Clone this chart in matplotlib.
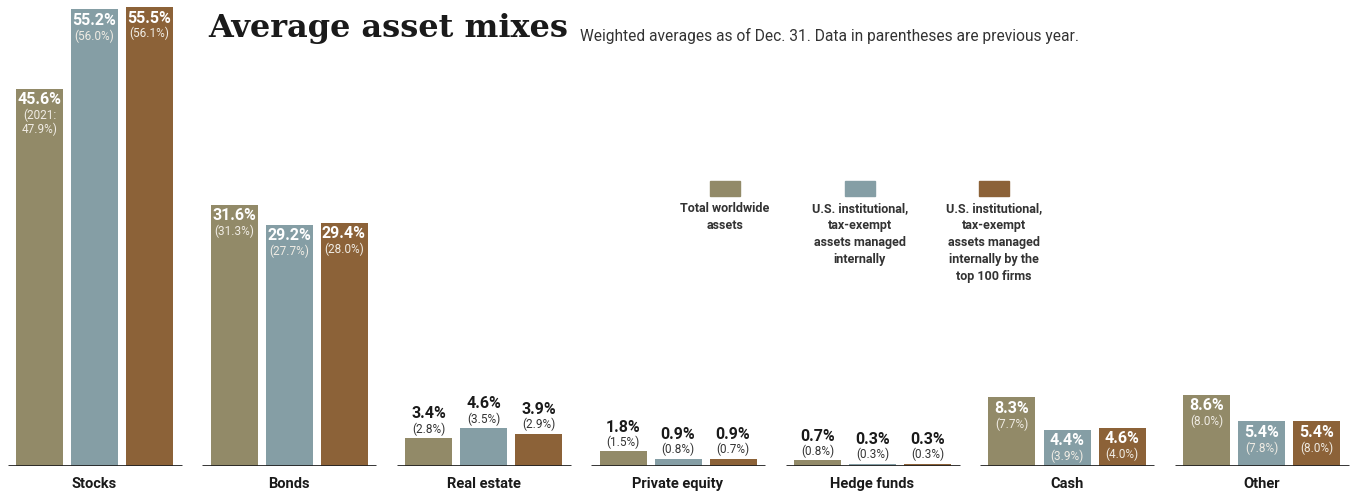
import matplotlib
matplotlib.use("Agg")
import matplotlib.pyplot as plt
from matplotlib import font_manager

categories = ["Stocks", "Bonds", "Real estate", "Private equity", "Hedge funds", "Cash", "Other"]
series_names = ["Total worldwide\nassets",
                "U.S. institutional,\ntax-exempt\nassets managed\ninternally",
                "U.S. institutional,\ntax-exempt\nassets managed\ninternally by the\ntop 100 firms"]
total_now = [45.6, 31.6, 3.4, 1.8, 0.7, 8.3, 8.6]
total_prev = [47.9, 31.3, 2.8, 1.5, 0.8, 7.7, 8.0]
internal_now = [55.2, 29.2, 4.6, 0.9, 0.3, 4.4, 5.4]
internal_prev = [56.0, 27.7, 3.5, 0.8, 0.3, 3.9, 7.8]
top100_now = [55.5, 29.4, 3.9, 0.9, 0.3, 4.6, 5.4]
top100_prev = [56.1, 28.0, 2.9, 0.7, 0.3, 4.0, 8.0]
prev_year = "2021"
colors = ["#928A68", "#859EA5", "#8C6238"]
outside_groups = ["Real estate", "Private equity", "Hedge funds"]

avail = {f.name for f in font_manager.fontManager.ttflist}
narrow = "Liberation Sans Narrow" if "Liberation Sans Narrow" in avail else "Roboto"
sans = "Roboto" if "Roboto" in avail else "DejaVu Sans"

W, H, DPI = 1352, 493, 100
fig = plt.figure(figsize=(W / DPI, H / DPI), dpi=DPI)
base_px = 27
pxper = 8.27
gap_px = 194.5
c0 = 94.5
ax = fig.add_axes([0, base_px / H, 1, (H - base_px) / H])
ax.set_ylim(0, (H - base_px) / pxper)
ax.set_xlim(-c0 / gap_px, (W - c0) / gap_px)
ax.axis("off")

bw = 47 / gap_px
off = 55 / gap_px
px2pt = 72 / DPI

now = [total_now, internal_now, top100_now]
prev = [total_prev, internal_prev, top100_prev]
for s in range(3):
    xs = [i + (s - 1) * off for i in range(len(categories))]
    ax.bar(xs, now[s], width=bw, color=colors[s], zorder=2)
    for i, cat in enumerate(categories):
        v = now[s][i]
        p = prev[s][i]
        ptxt = f"({p:.1f}%)"
        if i == 0 and s == 0:
            ptxt = f"({prev_year}:\n{p:.1f}%)"
        if cat in outside_groups:
            ax.annotate(f"{v:.1f}%", (xs[i], v), xytext=(0, 24 * px2pt), textcoords="offset points",
                        ha="center", va="center", fontsize=11.5, fontweight="bold", color="#1a1a1a",
                        family=sans)
            ax.annotate(ptxt, (xs[i], v), xytext=(0, 9 * px2pt), textcoords="offset points",
                        ha="center", va="center", fontsize=8.5, color="#333333", family=sans)
        else:
            ax.annotate(f"{v:.1f}%", (xs[i], v), xytext=(0, -11 * px2pt), textcoords="offset points",
                        ha="center", va="center", fontsize=11.5, fontweight="bold", color="white",
                        family=sans)
            ax.annotate(ptxt, (xs[i], v), xytext=(0, -20 * px2pt), textcoords="offset points",
                        ha="center", va="top", fontsize=8.5, color="#f0ece4", family=sans,
                        linespacing=1.0)

for i, cat in enumerate(categories):
    ax.plot([i - 87 / gap_px, i + 87 / gap_px], [0, 0], color="#222222", lw=2, zorder=3,
            solid_capstyle="butt")
    ax.annotate(cat, (i, 0), xytext=(0, -18 * px2pt), textcoords="offset points",
                ha="center", va="center", fontsize=10.5, fontweight="bold", color="#1a1a1a", family=sans)

# legend
leg_x = [725, 860, 994]
for s in range(3):
    fig.patches.append(plt.Rectangle(((leg_x[s] - 15) / W, 1 - 196 / H), 30 / W, 15 / H,
                                     transform=fig.transFigure, color=colors[s]))
    fig.text(leg_x[s] / W, 1 - 202 / H, series_names[s], ha="center", va="top", fontsize=9,
             fontweight="bold", color="#333333", family=sans, linespacing=1.4)

fig.text(208 / W, 1 - 28 / H, "Average asset mixes", ha="left", va="center", fontsize=23,
         fontweight="bold", family="DejaVu Serif", color="#1a1a1a")
fig.text(580 / W, 1 - 36 / H, "Weighted averages as of Dec. 31. Data in parentheses are previous year.",
         ha="left", va="center", fontsize=11.2, family=narrow, color="#333333")

fig.savefig("out.png", dpi=DPI)
